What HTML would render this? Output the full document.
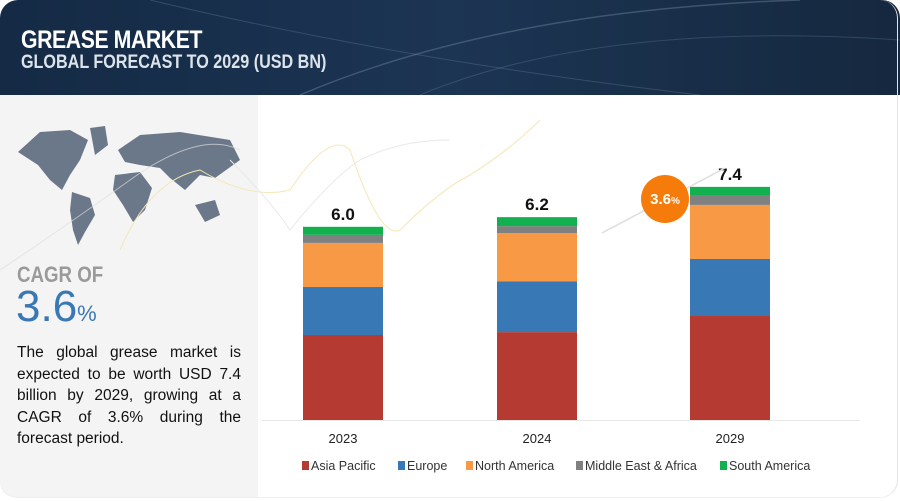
<!DOCTYPE html>
<html><head><meta charset="utf-8"><style>
body{margin:0;width:900px;height:501px;background:#fff;position:relative;overflow:hidden;font-family:"Liberation Sans",sans-serif}
.hdr{position:absolute;left:0;top:0;width:900px;height:95px;background:linear-gradient(90deg,#142a45,#1c3553 50%,#15283f);border-radius:18px 18px 0 0}
.t1{position:absolute;left:21px;top:26px;color:#fff;font-weight:bold;font-size:25px;letter-spacing:-0.5px;transform:scaleX(0.85);transform-origin:left}
.t2{position:absolute;left:21px;top:52px;color:#dde3ea;font-weight:bold;font-size:19px;transform:scaleX(0.85);transform-origin:left}
.left{position:absolute;left:0;top:95px;width:258px;height:402px;background:#f4f4f4;border-radius:0 0 0 14px}
.edge{position:absolute;left:0;top:0;width:897px;height:497px;border-right:1px solid #e4e4e4;border-bottom:1px solid #eee;border-radius:18px;pointer-events:none}
.cagr{position:absolute;left:17px;top:262px;color:#9a9a9a;font-weight:bold;font-size:22px;transform:scaleX(0.85);transform-origin:left}
.pct{position:absolute;left:16px;top:282px;color:#3a78b5;font-size:44px}
.pct span{font-size:22px}
.desc{position:absolute;left:17px;top:342px;width:224px;font-size:15.5px;line-height:21.5px;color:#111;text-align:justify}
</style></head><body>
<div class="hdr">
<svg width="900" height="95" style="position:absolute;left:0;top:0">
<path d="M150 0 Q400 60 700 95" stroke="#5a7a99" stroke-width="1" fill="none" opacity=".4"/>
<path d="M300 95 Q500 10 800 0" stroke="#7a8fa5" stroke-width="1.5" fill="none" opacity=".4"/>
<path d="M420 95 Q600 20 900 40" stroke="#6a8aa8" stroke-width="1" fill="none" opacity=".3"/>
</svg>
<div class="t1">GREASE MARKET</div>
<div class="t2">GLOBAL FORECAST TO 2029 (USD BN)</div>
</div>
<div class="left"></div>
<div class="edge"></div>
<svg width="900" height="501" style="position:absolute;left:0;top:0" id="deco">
<g fill="#6b7889">
<path d="M18 152 L40 132 L70 130 L88 140 L80 160 L70 175 L62 190 L50 180 L38 165 Z"/>
<path d="M90 128 L105 126 L108 145 L95 155 Z"/>
<path d="M72 192 L90 198 L95 215 L85 232 L78 245 L73 230 L70 210 Z"/>
<path d="M118 150 L140 135 L180 132 L230 140 L240 160 L215 178 L200 175 L185 190 L170 178 L160 168 L140 165 L125 162 Z"/>
<path d="M115 175 L140 172 L152 188 L145 210 L133 222 L123 205 L113 190 Z"/>
<path d="M195 205 L215 200 L220 215 L205 222 Z"/>
</g>
<path d="M0 270 Q60 230 130 180 T240 150" stroke="#ddd" fill="none" opacity=".7"/>
<path d="M120 250 Q150 180 200 170 Q250 200 290 190 Q330 130 350 150 Q380 240 400 230 Q440 190 470 175 Q510 150 540 120" stroke="#f5e6b5" fill="none"/>
<path d="M230 160 Q270 200 290 230 Q330 180 360 160 Q400 140 450 140" stroke="#e8e8e8" fill="none"/>
</svg>
<div class="cagr">CAGR OF</div>
<div class="pct">3.6<span>%</span></div>
<div class="desc">The global grease market is expected to be worth USD 7.4 billion by 2029, growing at a CAGR of 3.6% during the forecast period.</div>
<svg id="chart" width="900" height="501" style="position:absolute;left:0;top:0"></svg>
<script>
const years=["2023","2024","2029"];
const totals=["6.0","6.2","7.4"];
const seriesNames=["Asia Pacific","Europe","North America","Middle East & Africa","South America"];
const asiaPacific=[2.64,2.73,3.23];
const europe=[1.49,1.58,1.77];
const northAmerica=[1.37,1.49,1.68];
const mea=[0.25,0.22,0.28];
const southAmerica=[0.25,0.28,0.28];
const series=[asiaPacific,europe,northAmerica,mea,southAmerica];
const colors=["#b53a32","#3878b5","#f89a45","#808080","#12b04e"];
const NS="http://www.w3.org/2000/svg";
const svg=document.getElementById('chart');
const base=420,pxPer=32.2;
const y=v=>base-v*pxPer;
const xc=i=>[343,537,730][i];
const bw=80;
function mk(t,a){const e=document.createElementNS(NS,t);for(const k in a)e.setAttribute(k,a[k]);svg.appendChild(e);return e;}
const ax=mk('line',{x1:262,x2:860,y1:base+0.5,y2:base+0.5,stroke:'#e6e6e6'});


years.forEach((yr,i)=>{
 let cum=0;
 series.forEach((s,j)=>{
  const r=mk('rect',{x:xc(i)-bw/2,y:y(cum+s[i]),width:bw,height:s[i]*pxPer,fill:colors[j]});
  
  
  cum+=s[i];
 });
 const tl=mk('text',{x:xc(i),y:y(cum)-7,'text-anchor':'middle','font-size':'17','font-weight':'600','font-family':'Liberation Sans',fill:'#111'});
 tl.textContent=totals[i];
 
 
 const xl=mk('text',{x:xc(i),y:443,'text-anchor':'middle','font-size':'13','font-family':'Liberation Sans',fill:'#222'});
 xl.textContent=yr;
 
 
});
const ar=mk('line',{x1:602,y1:233,x2:725,y2:168,stroke:'#ddd','stroke-width':1.5});


const c=mk('circle',{cx:665,cy:199,r:24,fill:'#f57c0a'});


const ct=mk('text',{x:665,y:204,'text-anchor':'middle','font-size':'15','font-weight':'bold','font-family':'Liberation Sans',fill:'#fff'});
ct.innerHTML='3.6<tspan font-size="10">%</tspan>';


const lx=[302,398,466,576,720];
seriesNames.forEach((n,j)=>{
 const r=mk('rect',{x:lx[j],y:461,width:7,height:9,fill:colors[j]});
 
 
 const t=mk('text',{x:lx[j]+9,y:470,'font-size':'12.5','font-family':'Liberation Sans',fill:'#333'});
 t.textContent=n;
 
 
});
</script>
</body></html>
